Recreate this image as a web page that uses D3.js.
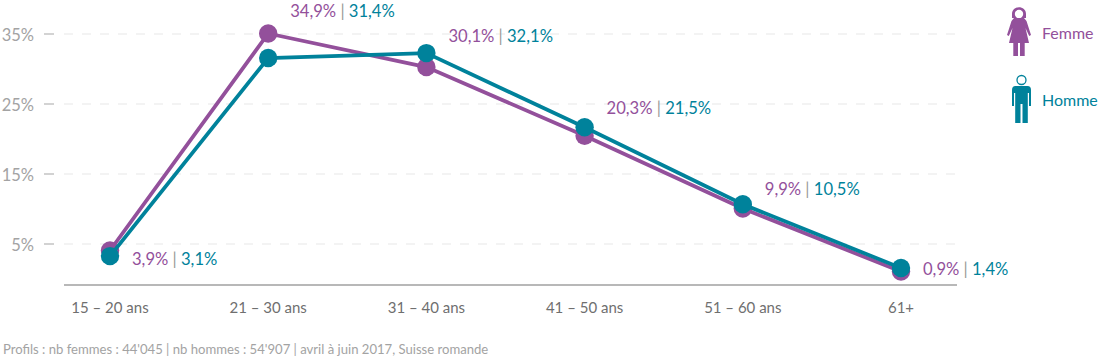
<!DOCTYPE html>
<html>
<head>
<meta charset="utf-8">
<script src="https://cdn.jsdelivr.net/npm/d3@7"></script>
<style>
  html, body { margin: 0; padding: 0; background: #fff; }
  svg { display: block; }
  text { font-family: Lato, "Open Sans", sans-serif; }
</style>
</head>
<body>
<div id="chart"></div>
<script>
const AGES = ["15 – 20 ans", "21 – 30 ans", "31 – 40 ans", "41 – 50 ans", "51 – 60 ans", "61+"];
const FEMMES = [3.9, 34.9, 30.1, 20.3, 9.9, 0.9];
const HOMMES = [3.1, 31.4, 32.1, 21.5, 10.5, 1.4];
const Y_TICKS = [5, 15, 25, 35];
const NOTE = "Profils : nb femmes : 44'045 | nb hommes : 54'907 | avril à juin 2017, Suisse romande";

const PURPLE = "#93509b", TEAL = "#00829b";
const W = 1100, H = 360;
const fmt = v => String(v.toFixed(1)).replace(".", ",") + "%";

const svg = d3.select("#chart").append("svg").attr("width", W).attr("height", H);

// ── Scales ─────────────────────────────────────────────────────────────────
const x = d3.scalePoint().domain(AGES).range([110, 901]);
const y = d3.scaleLinear().domain([0, 35]).range([277.8, 32.8]);

// ── Grid and axes ──────────────────────────────────────────────────────────
const yAxis = svg.append("g").attr("transform", "translate(0,1.2)");
Y_TICKS.forEach(t => {
    yAxis.append("line")
        .attr("x1", 64).attr("x2", 957).attr("y1", y(t)).attr("y2", y(t))
        .attr("stroke", "#e8e8e8").attr("stroke-width", 1.2).attr("stroke-dasharray", "9,9");
    yAxis.append("line")
        .attr("x1", 44).attr("x2", 54).attr("y1", y(t)).attr("y2", y(t))
        .attr("stroke", "#b5b5b5").attr("stroke-width", 1.2);
    yAxis.append("text")
        .attr("x", 34).attr("y", y(t) + 7.5).attr("text-anchor", "end")
        .attr("font-size", 16.5).attr("fill", "#a3a3a3")
        .text(`${t}%`);
});

svg.append("line")
    .attr("x1", 64).attr("x2", 957).attr("y1", 285).attr("y2", 285)
    .attr("stroke", "#a0a0a0").attr("stroke-width", 1.5);

svg.selectAll(".age").data(AGES).join("text")
    .attr("class", "age")
    .attr("x", d => x(d)).attr("y", 312.5)
    .attr("text-anchor", "middle")
    .attr("font-size", 15).attr("fill", "#6f6f6f")
    .text(d => d);

// ── Lines and points ───────────────────────────────────────────────────────
const line = d3.line().x((d, i) => x(AGES[i])).y(d => y(d));

[[FEMMES, PURPLE], [HOMMES, TEAL]].forEach(([values, color]) => {
    svg.append("path").datum(values)
        .attr("fill", "none").attr("stroke", color).attr("stroke-width", 3.8)
        .attr("d", line);
    svg.append("g").selectAll("circle").data(values).join("circle")
        .attr("cx", (d, i) => x(AGES[i])).attr("cy", d => y(d))
        .attr("r", 9.2).attr("fill", color);
});

// ── Value labels ───────────────────────────────────────────────────────────
const labelDy = [14.5, -17, -25, -22, -14, 3];
AGES.forEach((age, i) => {
    const t = svg.append("text")
        .attr("x", x(age) + 22).attr("y", y(FEMMES[i]) + labelDy[i])
        .attr("font-size", 16.6);
    t.append("tspan").attr("fill", PURPLE).text(fmt(FEMMES[i]));
    t.append("tspan").attr("fill", "#999").text(" | ");
    t.append("tspan").attr("fill", TEAL).text(fmt(HOMMES[i]));
});

// ── Legend ─────────────────────────────────────────────────────────────────
function femaleIcon(g) {
    g.append("path").attr("fill", PURPLE)
        .attr("d", "M-7,-14 L-7,-18 C-7,-27 7,-27 7,-18 L7,-14 Z");
    g.append("circle").attr("cy", -18).attr("r", 4.2).attr("fill", "#fff");
    g.append("path").attr("fill", PURPLE)
        .attr("d", "M-5,-14 L5,-14 L7.5,-11 L12,3 L10.2,4 L6.5,-4 L10,11 L5.7,11 L5.7,24 L1,24 L1,11 L-1,11 L-1,24 L-5.7,24 L-5.7,11 L-10,11 L-6.5,-4 L-10.2,4 L-12,3 L-7.5,-11 Z");
}
function maleIcon(g) {
    g.append("circle").attr("cy", -18).attr("r", 4.5)
        .attr("fill", "none").attr("stroke", TEAL).attr("stroke-width", 1.3);
    g.append("path").attr("fill", TEAL)
        .attr("d", "M-6,-12 L6,-12 Q9.5,-12 9.5,-8 L9.5,8 L7.5,8 L7.5,-5 L6.3,-5 L6.3,25 L1,25 L1,6 L-1,6 L-1,25 L-6.3,25 L-6.3,-5 L-7.5,-5 L-7.5,8 L-9.5,8 L-9.5,-8 Q-9.5,-12 -6,-12 Z");
}

femaleIcon(svg.append("g").attr("transform", "translate(1019,32)"));
maleIcon(svg.append("g").attr("transform", "translate(1021.5,98)"));

svg.append("text").attr("x", 1042).attr("y", 39)
    .attr("font-size", 16).attr("fill", PURPLE).text("Femme");
svg.append("text").attr("x", 1042).attr("y", 106)
    .attr("font-size", 16).attr("fill", TEAL).text("Homme");

// ── Note ───────────────────────────────────────────────────────────────────
svg.append("text").attr("x", 3).attr("y", 354)
    .attr("font-size", 13.1).attr("fill", "#a3a3a3").text(NOTE);
</script>
</body>
</html>
